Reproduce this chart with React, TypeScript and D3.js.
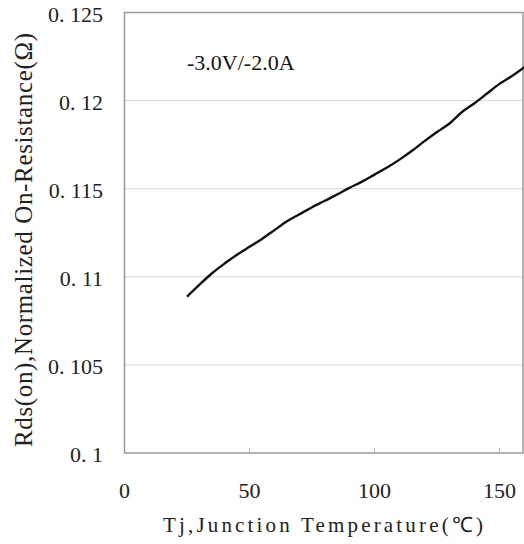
import React from "react";
import * as d3 from "d3";

const temps = [25, 30, 35, 40, 45, 50, 55, 60, 65, 70, 75, 80, 85, 90, 95, 100, 105, 110, 115, 120, 125, 130, 135, 140, 145, 150, 155, 160];
const rdsOn = [0.10887, 0.10955, 0.1102, 0.11075, 0.11125, 0.1117, 0.11215, 0.11265, 0.11315, 0.11355, 0.11395, 0.1143, 0.11467, 0.11505, 0.1154, 0.1158, 0.1162, 0.11665, 0.11715, 0.1177, 0.11822, 0.1187, 0.11935, 0.11985, 0.1204, 0.12095, 0.1214, 0.1219];
const xTicks = [0, 50, 100, 150];
const yTicks = [0.1, 0.105, 0.11, 0.115, 0.12, 0.125];
const yTickLabels = ["0. 1", "0. 105", "0. 11", "0. 115", "0. 12", "0. 125"];
const annotation = "-3.0V/-2.0A";
const xTitle = "Tj,Junction Temperature(℃)";
const yTitle = "Rds(on),Normalized On-Resistance(Ω)";

export default function App() {
  const W = 524, H = 544;
  const left = 124.5, right = 524.5, top = 12.5, bottom = 453;
  const x = d3.scaleLinear().domain([0, 160]).range([left, right]);
  const y = d3.scaleLinear().domain([0.1, 0.125]).range([bottom, top]);
  const data = temps.map((t, i) => [t, rdsOn[i]] as [number, number]);
  const line = d3.line<[number, number]>().x(d => x(d[0])).y(d => y(d[1])).curve(d3.curveMonotoneX);
  const serif = "'Liberation Serif', 'Times New Roman', serif";
  return (
    <svg width={W} height={H} style={{ position: "absolute", left: 0, top: 0, background: "#fff" }}>
      <rect x={0} y={0} width={W} height={H} fill="#fff" />
      {yTicks.slice(1, -1).map(v => (
        <line key={v} x1={left} x2={right - 1.5} y1={y(v)} y2={y(v)} stroke="#d8d8d8" strokeWidth={1} />
      ))}
      {xTicks.slice(1).map(v => (
        <line key={v} x1={x(v)} x2={x(v)} y1={bottom} y2={bottom - 5} stroke="#bbb" strokeWidth={1} />
      ))}
      <rect x={left} y={top} width={right - left - 1.5} height={bottom - top} fill="none" stroke="#999" strokeWidth={1.5} />
      <path d={line(data) || ""} fill="none" stroke="#111" strokeWidth={2.4} strokeLinejoin="round" />
      {yTicks.map((v, i) => (
        <text key={v} x={103} y={y(v) + 9} textAnchor="end" fontFamily={serif} fontSize={22} fill="#222">{yTickLabels[i]}</text>
      ))}
      {xTicks.map(v => (
        <text key={v} x={x(v)} y={498} textAnchor="middle" fontFamily={serif} fontSize={22} fill="#222">{v}</text>
      ))}
      <text x={187} y={70} fontFamily={serif} fontSize={22} fill="#111">{annotation}</text>
      <text x={323} y={531.5} textAnchor="middle" fontFamily={serif} fontSize={21} fill="#222" textLength={320} lengthAdjust="spacing">{xTitle}</text>
      <text transform="translate(32,240) rotate(-90)" textAnchor="middle" fontFamily={serif} fontSize={25} fill="#222" textLength={414} lengthAdjust="spacing">{yTitle}</text>
    </svg>
  );
}
